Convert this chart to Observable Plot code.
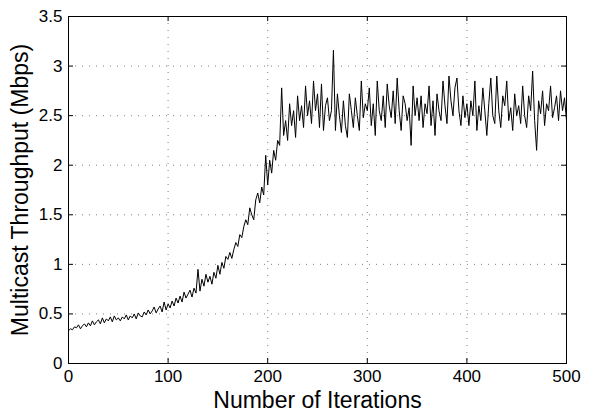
<!DOCTYPE html>
<html>
<head>
<meta charset="utf-8">
<script src="https://cdn.jsdelivr.net/npm/d3@7"></script>
<script src="https://cdn.jsdelivr.net/npm/@observablehq/plot@0.6"></script>
<style>
  html, body { margin: 0; padding: 0; background: #fff; }
  #chart svg { display: block; }
  #chart [aria-label="x-axis label"] text { font-size: 23px; }
  #chart [aria-label="y-axis label"] text { font-size: 23px; }
</style>
</head>
<body>
<div id="chart"></div>
<script>
// Iteration step between samples
const xStep = 2;
// Multicast throughput (Mbps), read every 2 iterations from 0 to 500
const throughput = [
  0.33,0.35,0.34,0.37,0.36,0.39,0.35,0.38,0.40,0.37,0.41,0.38,0.43,0.39,0.42,0.44,0.40,0.46,0.41,0.45,0.43,0.47,0.42,0.48,0.44,0.46,
  0.43,0.47,0.45,0.49,0.44,0.48,0.46,0.50,0.45,0.51,0.48,0.47,0.52,0.49,0.54,0.50,0.53,0.57,0.51,0.55,0.58,0.52,0.62,0.54,0.60,
  0.56,0.63,0.58,0.66,0.61,0.68,0.62,0.72,0.66,0.70,0.74,0.67,0.76,0.71,0.95,0.73,0.85,0.78,0.90,0.82,0.88,0.80,0.92,0.86,0.99,
  0.90,1.02,0.96,1.08,1.05,1.12,1.06,1.15,1.22,1.18,1.30,1.27,1.38,1.45,1.40,1.57,1.50,1.45,1.65,1.72,1.62,1.78,1.70,2.10,1.80,
  2.05,1.92,2.15,2.05,2.25,2.20,2.78,2.30,2.45,2.25,2.62,2.40,2.55,2.28,2.70,2.45,2.60,2.38,2.80,2.50,2.65,2.42,2.85,2.55,2.72,
  2.38,2.82,2.35,2.60,2.68,2.45,2.55,3.16,2.35,2.72,2.50,2.33,2.65,2.40,2.28,2.72,2.55,2.38,2.68,2.50,2.35,2.85,2.48,2.62,2.55,
  2.78,2.40,2.62,2.30,2.85,2.55,2.45,2.70,2.38,2.82,2.60,2.48,2.75,2.42,2.88,2.55,2.35,2.70,2.62,2.45,2.58,2.20,2.80,2.50,2.68,
  2.45,2.70,2.38,2.62,2.52,2.80,2.40,2.65,2.30,2.72,2.55,2.45,2.85,2.60,2.42,2.90,2.65,2.50,2.78,2.88,2.55,2.40,2.70,2.48,2.62,
  2.40,2.65,2.50,2.85,2.35,2.60,2.45,2.78,2.55,2.30,2.62,2.88,2.50,2.42,2.90,2.55,2.38,2.70,2.60,2.85,2.45,2.58,2.35,2.72,2.50,
  2.60,2.42,2.80,2.50,2.38,2.70,2.55,2.95,2.45,2.15,2.65,2.52,2.75,2.40,2.62,2.55,2.80,2.48,2.58,2.70,2.45,2.75,2.55,2.68,2.45
];
const xTicks = [0, 100, 200, 300, 400, 500];
const yTicks = [0, 0.5, 1, 1.5, 2, 2.5, 3, 3.5];
const xLabel = "Number of Iterations";
const yLabel = "Multicast Throughput (Mbps)";

const data = throughput.map((v, i) => ({iter: i * xStep, value: v}));

const gridStyle = {stroke: "#808080", strokeWidth: 1, strokeDasharray: "1 6"};
// inward tick length in px is set through insets on the frame-spanning tick marks
const frameW = 595 - 68 - 29, frameH = 413 - 16 - 50, tickLen = 5;

const chart = Plot.plot({
  width: 595,
  height: 413,
  marginLeft: 68,
  marginRight: 29,
  marginTop: 16,
  marginBottom: 50,
  style: {fontFamily: "'Liberation Sans', Arial, Helvetica, sans-serif", fontSize: "17px", color: "#000", background: "#fff"},
  x: {domain: [0, 500]},
  y: {domain: [0, 3.5]},
  marks: [
    Plot.ruleX(xTicks.slice(1, -1), {x: d => d, ...gridStyle}),
    Plot.ruleY(yTicks.slice(1, -1), {y: d => d, ...gridStyle}),
    Plot.line(data, {x: "iter", y: "value", stroke: "#000", strokeWidth: 1}),
    Plot.frame({stroke: "#000", strokeWidth: 1}),
    Plot.axisX(xTicks, {anchor: "bottom", tickSize: 0, tickPadding: 6, label: xLabel, labelAnchor: "center", labelArrow: "none", labelOffset: 44}),
    Plot.axisY(yTicks, {anchor: "left", tickSize: 0, tickPadding: 6, tickFormat: d => String(d), label: yLabel, labelAnchor: "center", labelArrow: "none", labelOffset: 57}),
    Plot.tickX(xTicks, {x: d => d, insetTop: frameH - tickLen, stroke: "#000"}),
    Plot.tickX(xTicks, {x: d => d, insetBottom: frameH - tickLen, stroke: "#000"}),
    Plot.tickY(yTicks, {y: d => d, insetRight: frameW - tickLen, stroke: "#000"}),
    Plot.tickY(yTicks, {y: d => d, insetLeft: frameW - tickLen, stroke: "#000"})
  ]
});
document.getElementById("chart").appendChild(chart);
</script>
</body>
</html>
